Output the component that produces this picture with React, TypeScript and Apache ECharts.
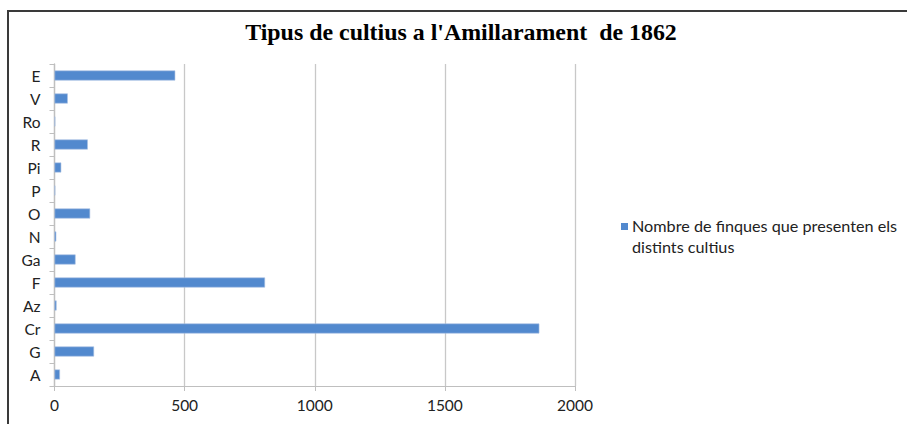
import React, { useEffect, useRef } from "react";
import * as echarts from "echarts";

const categories = ["A", "G", "Cr", "Az", "F", "Ga", "N", "O", "P", "Pi", "R", "Ro", "V", "E"];
const values = [21, 152, 1863, 8, 809, 81, 7, 137, 3, 26, 128, 3, 51, 464];
const seriesName = "Nombre de finques que presenten els distints cultius";
const legendLines = ["Nombre de finques que presenten els", "distints cultius"];
const titleText = "Tipus de cultius a l'Amillarament  de 1862";
const xTicks = [0, 500, 1000, 1500, 2000];

export default function App() {
  const ref = useRef<HTMLDivElement>(null);
  useEffect(() => {
    if (!ref.current) return;
    const chart = echarts.init(ref.current, undefined, { renderer: "svg" });
    const font = "Lato, 'Open Sans', sans-serif";
    const barColor = "#5289CE";
    chart.setOption({
      animation: false,
      backgroundColor: "#ffffff",
      title: {
        text: titleText,
        left: 456,
        top: 15,
        textAlign: "center",
        textStyle: {
          fontFamily: "'Liberation Serif', serif",
          fontWeight: "bold",
          fontSize: 23.9,
          color: "#000000",
        },
      },
      grid: { left: 54.5, right: 332, top: 64, bottom: 38, containLabel: false },
      xAxis: {
        type: "value",
        min: xTicks[0],
        max: xTicks[xTicks.length - 1],
        interval: 500,
        axisLine: { show: true, lineStyle: { color: "#BFBFBF", width: 1 } },
        axisTick: { show: true, length: 5, lineStyle: { color: "#BFBFBF" } },
        splitLine: { show: true, lineStyle: { color: "#C8C8C8", width: 1.3 } },
        axisLabel: {
          fontFamily: font,
          fontSize: 15.5,
          color: "#222",
          margin: 11,
          formatter: (v: number) => String(v),
        },
      },
      yAxis: {
        type: "category",
        data: categories,
        axisLine: { show: true, lineStyle: { color: "#BFBFBF", width: 1.3 } },
        axisTick: { show: true, length: 5, lineStyle: { color: "#BFBFBF" } },
        axisLabel: { fontFamily: font, fontSize: 15.5, color: "#222", margin: 14 },
      },
      legend: { show: false },
      series: [
        {
          name: seriesName,
          type: "bar",
          data: values,
          barWidth: 10,
          itemStyle: { color: barColor, borderColor: "#A9C1E2", borderWidth: 0.6 },
        },
      ],
      graphic: [
        {
          type: "rect",
          shape: { x: 8, y: 11, width: 1200, height: 800 },
          style: { fill: "none", stroke: "#3A3A3A", lineWidth: 2 },
          silent: true,
        },
        {
          type: "rect",
          shape: { x: 621, y: 223, width: 7, height: 7 },
          style: { fill: barColor },
        },
        {
          type: "text",
          x: 632,
          y: 215,
          style: {
            text: legendLines.join("\n"),
            fontFamily: font,
            fontSize: 16.2,
            lineHeight: 21,
            fill: "#222",
          },
        },
      ],
    });
    return () => chart.dispose();
  }, []);
  return (
    <div
      ref={ref}
      style={{ position: "fixed", left: 0, top: 0, width: 907, height: 424 }}
    />
  );
}
